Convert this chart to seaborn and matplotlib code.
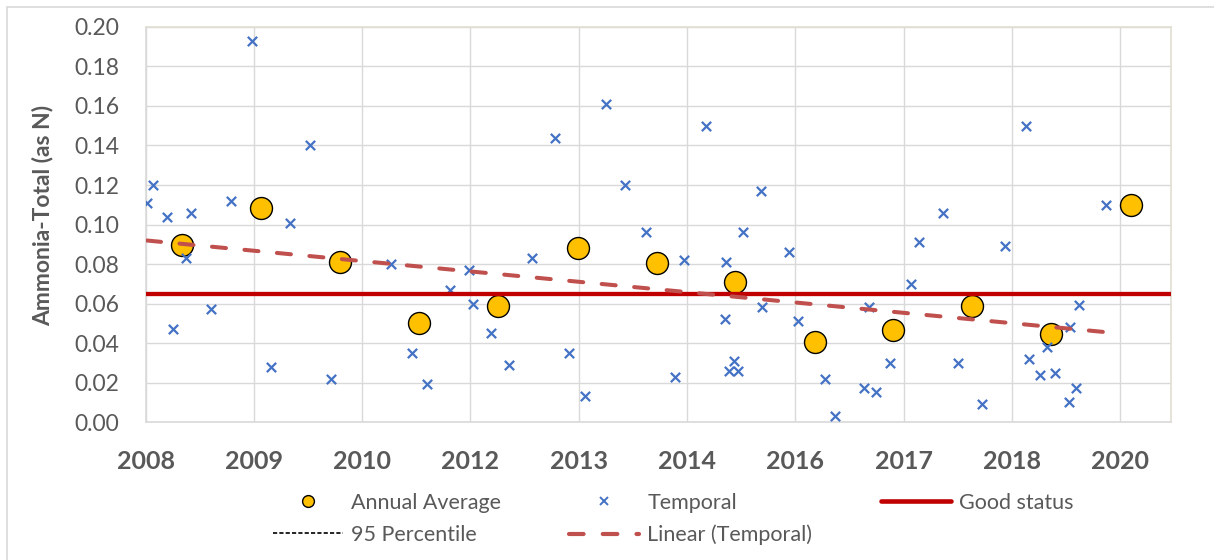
import numpy as np
import pandas as pd
import matplotlib
matplotlib.use("Agg")
import matplotlib.pyplot as plt
from matplotlib.lines import Line2D
from matplotlib.patches import Rectangle
import seaborn as sns

# sample dates are stored as days after 2008-01-01
temporal_day = [6, 34, 98, 126, 185, 209, 303, 392, 492, 581,
                666, 757, 855, 1135, 1230, 1300, 1407, 1492, 1512, 1595,
                1680, 1784, 1889, 1953, 2030, 2127, 2215, 2309, 2443, 2484,
                2587, 2673, 2681, 2693, 2716, 2736, 2758, 2843, 2847, 2969,
                3011, 3135, 3184, 3318, 3338, 3373, 3435, 3535, 3569, 3681,
                3750, 3862, 3969, 4064, 4081, 4128, 4162, 4197, 4262, 4267,
                4298, 4310, 4435]
temporal_val = [0.111, 0.120, 0.104, 0.047, 0.083, 0.106, 0.057, 0.112, 0.193, 0.028,
                0.101, 0.140, 0.022, 0.080, 0.035, 0.019, 0.067, 0.077, 0.060, 0.045,
                0.029, 0.083, 0.144, 0.035, 0.013, 0.161, 0.120, 0.096, 0.023, 0.082,
                0.150, 0.052, 0.081, 0.026, 0.031, 0.026, 0.096, 0.117, 0.058, 0.086,
                0.051, 0.022, 0.003, 0.017, 0.058, 0.015, 0.030, 0.070, 0.091, 0.106,
                0.030, 0.009, 0.089, 0.150, 0.032, 0.024, 0.038, 0.025, 0.010, 0.048,
                0.017, 0.059, 0.110]

annual_day = [168, 533, 898, 1263, 1629, 1995, 2360, 2723, 3089, 3453, 3818, 4182, 4548]
annual_val = [0.0896, 0.1085, 0.0810, 0.0503, 0.0589, 0.0883, 0.0803, 0.0707,
              0.0405, 0.0467, 0.0586, 0.0447, 0.1099]

good_status = 0.065

# excel date axis: a major tick every 500 days, labelled with the year
tick_days = [0, 500, 1000, 1500, 2000, 2500, 3000, 3500, 4000, 4500]
tick_labels = ["2008", "2009", "2010", "2012", "2013", "2014", "2016", "2017", "2018", "2020"]
x_max = 4735

temporal = pd.DataFrame({"day": temporal_day, "value": temporal_val})
annual = pd.DataFrame({"day": annual_day, "value": annual_val})

sns.set_theme(style="white")
plt.rcParams["font.family"] = ["Lato", "DejaVu Sans"]

text_col = "#595959"
grid_col = "#D9D9D9"

fig = plt.figure(figsize=(12.14, 5.6), dpi=100)
ax = fig.add_axes([0.12, 0.2464, 0.8446, 0.7054])

sns.scatterplot(data=annual, x="day", y="value", ax=ax, s=250, color="#FFC000",
                edgecolor="black", linewidth=1.0, zorder=3, legend=False)
sns.scatterplot(data=temporal, x="day", y="value", ax=ax, marker="x", s=45,
                color="#4472C4", linewidth=1.6, zorder=4, legend=False)
ax.axhline(good_status, color="#C00000", lw=3.1, zorder=5)
sns.regplot(data=temporal, x="day", y="value", ax=ax, scatter=False, ci=None,
            truncate=True,
            line_kws=dict(color="#C0504D", lw=2.9, dashes=(3.5, 4.6),
                          dash_capstyle="round", zorder=6))

ax.set_xlim(0, x_max)
ax.set_ylim(0, 0.2)
ax.set_xticks(tick_days)
ax.set_xticklabels(tick_labels)
ax.set_yticks(np.arange(0, 0.2001, 0.02))
ax.yaxis.set_major_formatter(plt.FormatStrFormatter("%.2f"))
ax.grid(True, color=grid_col, lw=1.0)
ax.set_axisbelow(True)

ax.tick_params(axis="y", length=0, pad=19, labelsize=16.5, labelcolor=text_col)
ax.tick_params(axis="x", direction="out", length=7.2, width=1.0, color=grid_col,
               pad=13, labelsize=18, labelcolor=text_col)
for lab in ax.get_xticklabels():
    lab.set_fontweight("bold")

for side in ("left", "bottom"):
    ax.spines[side].set_color(grid_col)
for side in ("top", "right"):
    ax.spines[side].set_color("#E2DFD3")
for sp in ax.spines.values():
    sp.set_linewidth(1.2)

ax.set_xlabel("")
ax.set_ylabel("Ammonia-Total (as N)", fontsize=16.5, fontweight="bold", color=text_col)
ax.yaxis.set_label_coords(-0.0895, 0.522)

handles = [
    Line2D([], [], ls="none", marker="o", ms=8.5, mfc="#FFC000", mec="black", mew=1.0),
    Line2D([], [], color="black", lw=1.2, dashes=(2.5, 1.3)),
    Line2D([], [], ls="none", marker="x", ms=5.5, mec="#4472C4", mew=1.4),
    Line2D([], [], color="#C0504D", lw=3.0, dashes=(3.5, 4.6), dash_capstyle="round"),
    Line2D([], [], color="#C00000", lw=3.3),
]
labels = ["Annual Average", "95 Percentile", "Temporal", "Linear (Temporal)", "Good status"]
fig.legend(handles, labels, loc="center", bbox_to_anchor=(0.5545, 0.0732),
           bbox_transform=fig.transFigure, ncol=3, frameon=False, fontsize=15.5,
           labelcolor=text_col, handlelength=3.25, handletextpad=0.37,
           columnspacing=3.2, labelspacing=0.55, borderpad=0)

# chart area border (only top and left edges fall inside the picture)
fig.patches.append(Rectangle((6.7 / 1214, -0.5), 2.0, 1.5 - 6.7 / 560,
                             transform=fig.transFigure, fill=False,
                             edgecolor=grid_col, lw=1.2))

fig.savefig("out.png", dpi=100)
